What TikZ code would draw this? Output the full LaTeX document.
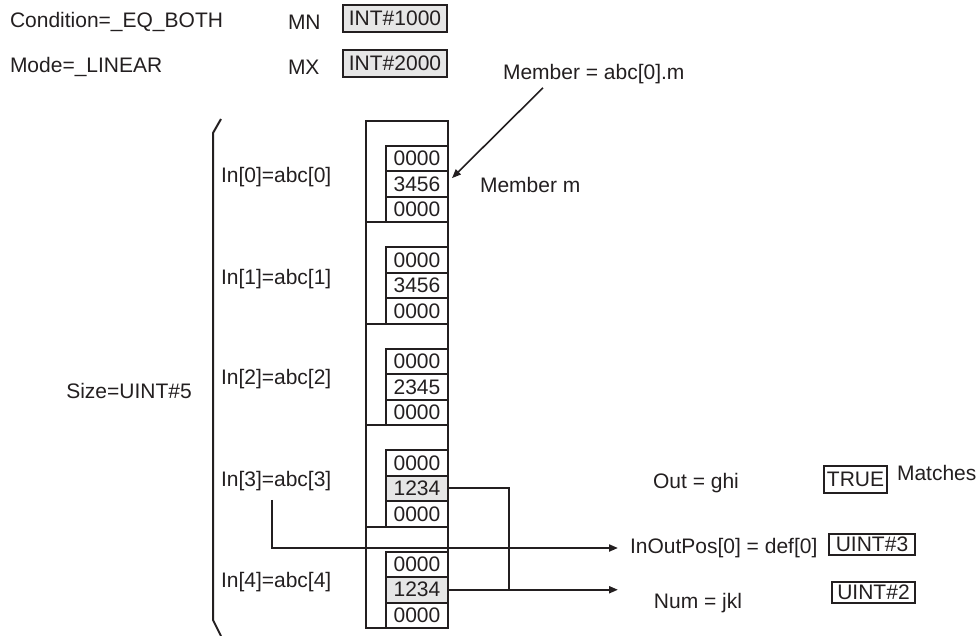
\documentclass[tikz,border=0pt]{standalone}
\usepackage{fontspec}
\setmainfont{Liberation Sans}
\usetikzlibrary{positioning,arrows.meta}
\definecolor{ink}{HTML}{231F20}
\definecolor{boxgray}{HTML}{E6E6E6}

\begin{document}
\begin{tikzpicture}[
            x=1pt, y=-1pt,
            node distance=0pt,
            every node/.style={font=\fontsize{21}{25}\selectfont, text=ink, inner sep=0pt, outer sep=0pt},
            lbl/.style={anchor=west},
            valbox/.style={draw=ink, minimum height=27pt},
            sect/.style={draw=ink, minimum width=82pt, minimum height=101.4pt},
            cell/.style={draw=ink, minimum width=62pt, minimum height=25.5pt},
            hit/.style={cell, fill=boxgray},
            color=ink, line width=2pt,
            >={Triangle[length=9pt,width=7pt]}
        ]
            \useasboundingbox (0,0) rectangle (979,636);
            % parameters
            \node[lbl] (cond) at (10,22) {Condition=\_EQ\_BOTH};
            \node[lbl] (mode) at (10,67) {Mode=\_LINEAR};
            \node[lbl] (mn) at (288,22) {MN};
            \node[lbl] (mx) at (288,67) {MX};
            \node[valbox, fill=boxgray, minimum width=104pt] (minv) at (395,18.5) {INT\#1000};
            \node[valbox, fill=boxgray, minimum width=104pt] (maxv) at (395,63.5) {INT\#2000};
            % array elements
            \node[sect] (s1) at (407,171.7) {};
            \node[sect] (s2) at (407,273.1) {};
            \node[sect] (s3) at (407,374.5) {};
            \node[sect] (s4) at (407,475.9) {};
            \node[sect] (s5) at (407,577.3) {};
            \node[cell, anchor=south east] (c13) at (s1.south east) {0000};
            \node[cell, above=of c13] (c12) {3456};
            \node[cell, above=of c12] (c11) {0000};
            \node[cell, anchor=south east] (c23) at (s2.south east) {0000};
            \node[cell, above=of c23] (c22) {3456};
            \node[cell, above=of c22] (c21) {0000};
            \node[cell, anchor=south east] (c33) at (s3.south east) {0000};
            \node[cell, above=of c33] (c32) {2345};
            \node[cell, above=of c32] (c31) {0000};
            \node[cell, anchor=south east] (c43) at (s4.south east) {0000};
            \node[hit, above=of c43] (c42) {1234};
            \node[cell, above=of c42] (c41) {0000};
            \node[cell, anchor=south east] (c53) at (s5.south east) {0000};
            \node[hit, above=of c53] (c52) {1234};
            \node[cell, above=of c52] (c51) {0000};
            \node[lbl] (in0) at (221,177) {In[0]=abc[0]};
            \node[lbl] (in1) at (221,279) {In[1]=abc[1]};
            \node[lbl] (in2) at (221,379) {In[2]=abc[2]};
            \node[lbl] (in3) at (221,481) {In[3]=abc[3]};
            \node[lbl] (in4) at (221,582) {In[4]=abc[4]};
            \node (size) at (129,391) {Size=UINT\#5};
            \draw (221,119) -- (213,133) -- (213,620) -- (221,636);
            % member
            \node[lbl] (memb) at (503,74) {Member = abc[0].m};
            \node[lbl] (mm) at (480,185) {Member m};
            \draw[->, line width=1.6pt] ([xshift=40pt,yshift=-4pt]memb.south west) -- ([xshift=4pt,yshift=6pt]c12.east);
            % outputs
            \node (out) at (696,483) {Out = ghi};
            \node[valbox, minimum width=63pt] (outv) at (855.5,479.5) {TRUE};
            \node[lbl] (match) at (897,473) {Matches};
            \node[lbl] (inout) at (630,548) {InOutPos[0] = def[0]};
            \node[valbox, minimum width=86pt, minimum height=21pt] (posv) at (872,544) {UINT\#3};
            \node (num) at (698,603) {Num = jkl};
            \node[valbox, minimum width=83pt, minimum height=21pt] (numv) at (873.5,592.5) {UINT\#2};
            \draw[->] ([xshift=-4pt,yshift=-9pt]in3.south) |- ([xshift=-12pt]inout.west);
            \draw (c42.east) -| ([xshift=61pt]c52.east);
            \draw[->] (c52.east) -- ([xshift=-12pt]inout.west |- c52.east);
        \end{tikzpicture}
\end{document}
